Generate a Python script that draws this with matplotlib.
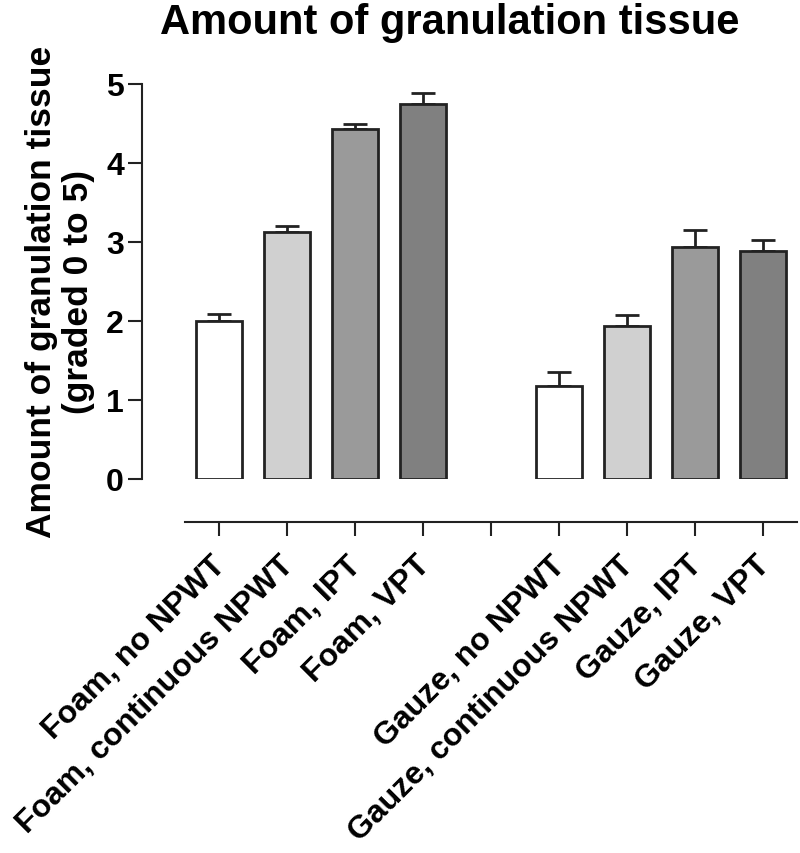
import numpy as np
import matplotlib
matplotlib.use("Agg")
import matplotlib.pyplot as plt
from matplotlib.transforms import ScaledTranslation

plt.rcParams['font.family'] = ['Liberation Sans', 'DejaVu Sans']
plt.rcParams['font.weight'] = 'bold'

labels = ["Foam, no NPWT", "Foam, continuous NPWT", "Foam, IPT", "Foam, VPT",
          "Gauze, no NPWT", "Gauze, continuous NPWT", "Gauze, IPT", "Gauze, VPT"]
means = [2.00, 3.13, 4.43, 4.75, 1.18, 1.93, 2.93, 2.88]
errors = [0.09, 0.07, 0.06, 0.13, 0.17, 0.15, 0.22, 0.14]
colors = ["#ffffff", "#d0d0d0", "#9a9a9a", "#808080",
          "#ffffff", "#d0d0d0", "#9a9a9a", "#808080"]

# a blank slot between the two groups
positions = [0, 1, 2, 3, 5, 6, 7, 8]
tick_positions = list(range(9))
tick_labels = labels[:4] + [""] + labels[4:]

fig = plt.figure(figsize=(8, 8.54), dpi=100)
ax = fig.add_axes([0.1775, 0.438, 0.819, 0.4625])

ax.bar(positions, means, width=0.68, color=colors, edgecolor="#222222",
       linewidth=2, zorder=2)
ax.errorbar(positions, means, yerr=[np.zeros(len(errors)), errors], fmt="none",
            ecolor="#222222", elinewidth=2, capsize=8.5, capthick=2, zorder=1)

ax.set_xlim(-1.13, 8.5)
ax.set_ylim(0, 5)

for s in ["top", "right"]:
    ax.spines[s].set_visible(False)
ax.spines["left"].set_linewidth(1.5)
ax.spines["bottom"].set_linewidth(1.5)
ax.spines["left"].set_color("#222222")
ax.spines["bottom"].set_color("#222222")
ax.spines["bottom"].set_position(("outward", 31))
ax.spines["bottom"].set_bounds(-0.5, 8.5)

ax.tick_params(axis="y", length=10, width=1.5, labelsize=23, color="#222222", pad=3)
ax.tick_params(axis="x", length=10, width=1.5, color="#222222", pad=10)

ax.set_yticks([0, 1, 2, 3, 4, 5])
for t in ax.get_yticklabels():
    t.set_fontweight("bold")
ax.set_xticks(tick_positions)
ax.set_xticklabels(tick_labels, rotation=45, ha="right", rotation_mode="anchor",
                   fontsize=23, fontweight="bold")
shift = ScaledTranslation(-6 / 72, 0, fig.dpi_scale_trans)
for t in ax.get_xticklabels():
    t.set_transform(t.get_transform() + shift)

ax.set_ylabel("Amount of granulation tissue\n(graded 0 to 5)", fontsize=25.5,
              fontweight="bold", linespacing=1.15)
ax.yaxis.set_label_coords(-0.072, 0.476)
fig.suptitle("Amount of granulation tissue", fontsize=30, fontweight="bold",
             x=0.5625, y=0.997, va="top")

fig.savefig("out.png", dpi=100)
